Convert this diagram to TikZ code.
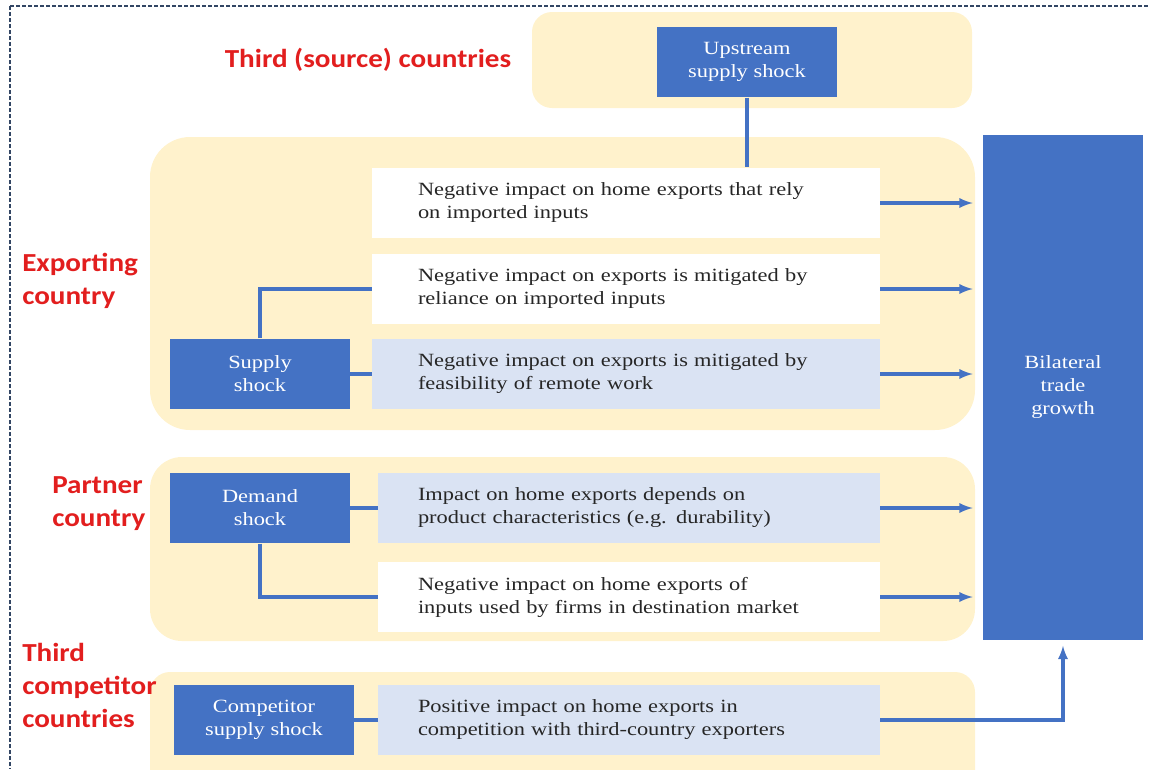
\documentclass[tikz,border=0pt]{standalone}
\usepackage{fontspec}
\setmainfont{Liberation Serif}[FakeStretch=1.2]
\newfontfamily\regionfont{Carlito}[FakeStretch=1.12]
\usepackage{xcolor}
\definecolor{shockblue}{RGB}{68,114,196}
\definecolor{channelblue}{RGB}{218,227,243}
\definecolor{regionbeige}{RGB}{255,242,204}
\definecolor{regionred}{RGB}{226,30,30}
\definecolor{framegray}{RGB}{50,70,100}
\newcommand{\boxfont}{\fontsize{14}{17.25}\selectfont}
\tikzstyle{shockbox}=[fill=shockblue, text=white, minimum width=135pt, minimum height=53pt, align=center, inner sep=0pt, font=\boxfont]
\tikzstyle{effectbox}=[text=black!85, minimum height=53pt, align=left, font=\boxfont]
\tikzset{plain/.style={fill=white}}
\tikzset{tinted/.style={fill=channelblue}}
\tikzset{longbox/.style={text width=312pt, inner xsep=34.5pt}}
\tikzset{shortbox/.style={text width=316.5pt, inner xsep=30pt}}
\tikzstyle{region}=[fill=regionbeige]
\tikzstyle{regionlabel}=[text=regionred, align=left, inner sep=0pt, font=\regionfont\bfseries\fontsize{19.5}{24.75}\selectfont]
\tikzstyle{link}=[draw=shockblue, line width=2.4pt]

\begin{document}
\begin{tikzpicture}[x=0.75pt,y=-0.75pt]
  \useasboundingbox (0,0) rectangle (1150,769);
  \clip (0,0) rectangle (1150,769);
  %% Frame
  \draw[framegray,dash pattern=on 3pt off 1.5pt,line width=1pt] (10,6) -- (1150,6);
  \draw[framegray,dash pattern=on 3pt off 1.5pt,line width=1pt] (10,6) -- (10,769);

  %% Country bands
  \fill[region,rounded corners=15pt] (532,12) rectangle (972,108);
  \fill[region,rounded corners=30pt] (150,137) rectangle (975,430);
  \fill[region,rounded corners=24pt] (150,457) rectangle (975,641);
  \fill[region,rounded corners=15pt] (150,672) rectangle (975,800);

  %% Region labels
  \draw (368,60) node[regionlabel] (Source) {Third (source) countries};
  \draw (22,281) node[regionlabel,anchor=west] (Exporting) {Exporting\\country};
  \draw (52,504) node[regionlabel,anchor=west] (Partner) {Partner\\country};
  \draw (22,685) node[regionlabel,anchor=west] (Competitor) {Third\\competitor\\countries};

  %% Shocks
  \draw (747,62) node[shockbox] (Upstream) {Upstream\\supply shock};
  \draw (260,374) node[shockbox] (Supply) {Supply\\shock};
  \draw (260,508) node[shockbox] (Demand) {Demand\\shock};
  \draw (264,720) node[shockbox] (Rival) {Competitor\\supply shock};
  \draw (1063,387.5) node[shockbox,minimum width=120pt,minimum height=379pt] (Trade) {Bilateral\\trade\\growth};

  %% Channels
  \draw (626,203) node[effectbox,plain,longbox] (E1) {Negative impact on home exports that rely\\on imported inputs};
  \draw (626,289) node[effectbox,plain,longbox] (E2) {Negative impact on exports is mitigated by\\reliance on imported inputs};
  \draw (626,374) node[effectbox,tinted,longbox] (E3) {Negative impact on exports is mitigated by\\feasibility of remote work};
  \draw (629,508) node[effectbox,tinted,shortbox] (P1) {Impact on home exports depends on\\product characteristics (e.g. durability)};
  \draw (629,597) node[effectbox,plain,shortbox] (P2) {Negative impact on home exports of\\inputs used by firms in destination market};
  \draw (629,720) node[effectbox,tinted,shortbox] (C1) {Positive impact on home exports in\\competition with third-country exporters};

  %% Shocks to channels
  \draw[link] (Upstream.south) -- (Upstream.south |- E1.north);
  \draw[link] (Supply.north) |- (E2.west);
  \draw[link] (Supply.east) -- (E3.west);
  \draw[link] (Demand.east) -- (P1.west);
  \draw[link] (Demand.south) |- (P2.west);
  \draw[link] (Rival.east) -- (C1.west);

  %% Channels to trade growth
  \draw[link,-latex,shorten >=7.5pt] (E1.east) -- (E1.east -| Trade.west);
  \draw[link,-latex,shorten >=7.5pt] (E2.east) -- (E2.east -| Trade.west);
  \draw[link,-latex,shorten >=7.5pt] (E3.east) -- (E3.east -| Trade.west);
  \draw[link,-latex,shorten >=7.5pt] (P1.east) -- (P1.east -| Trade.west);
  \draw[link,-latex,shorten >=7.5pt] (P2.east) -- (P2.east -| Trade.west);
  \draw[link,-latex,shorten >=4pt] (C1.east) -| (Trade.south);
\end{tikzpicture}
\end{document}
